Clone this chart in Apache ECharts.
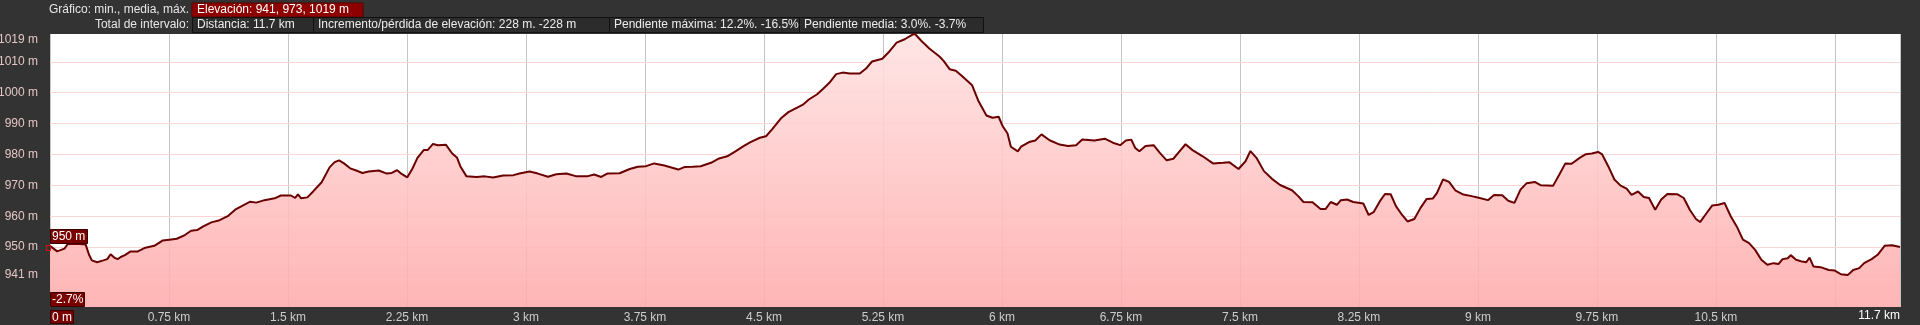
<!DOCTYPE html>
<html>
<head>
<meta charset="utf-8">
<script src="https://cdn.jsdelivr.net/npm/echarts@6/dist/echarts.min.js"></script>
<style>
html,body{margin:0;padding:0;background:#333333;}
#c{width:1920px;height:325px;}
</style>
</head>
<body>
<div id="c"></div>
<script>
// distance (km) along the track
const dist = [0,0.045,0.091,0.112,0.168,0.225,0.246,0.264,0.297,0.336,0.361,0.382,0.405,0.426,0.446,0.472,0.508,0.554,0.601,0.657,0.709,0.752,0.799,0.850,0.889,0.927,0.966,1.017,1.069,1.120,1.167,1.223,1.262,1.300,1.352,1.416,1.455,1.519,1.545,1.563,1.583,1.622,1.660,1.712,1.763,1.794,1.822,1.853,1.892,1.930,1.969,2.008,2.072,2.123,2.154,2.188,2.213,2.252,2.283,2.316,2.355,2.380,2.414,2.445,2.496,2.535,2.566,2.586,2.625,2.689,2.741,2.792,2.856,2.921,2.959,3.023,3.075,3.139,3.191,3.255,3.319,3.384,3.430,3.474,3.512,3.590,3.654,3.705,3.757,3.808,3.872,3.960,3.998,4.050,4.101,4.166,4.217,4.268,4.320,4.371,4.415,4.474,4.513,4.551,4.611,4.654,4.706,4.745,4.783,4.835,4.873,4.912,4.955,4.996,5.040,5.104,5.143,5.181,5.246,5.284,5.336,5.387,5.439,5.452,5.491,5.542,5.606,5.632,5.670,5.709,5.748,5.812,5.850,5.902,5.940,5.979,6.004,6.035,6.056,6.100,6.120,6.171,6.210,6.249,6.300,6.364,6.416,6.467,6.506,6.583,6.648,6.699,6.745,6.781,6.815,6.840,6.866,6.905,6.956,6.995,7.038,7.080,7.111,7.157,7.201,7.265,7.330,7.394,7.432,7.491,7.535,7.566,7.604,7.651,7.702,7.753,7.828,7.867,7.900,7.957,8.008,8.039,8.072,8.111,8.136,8.175,8.214,8.278,8.311,8.342,8.381,8.414,8.450,8.484,8.522,8.556,8.599,8.638,8.677,8.715,8.741,8.780,8.818,8.857,8.908,8.960,9.011,9.063,9.101,9.153,9.191,9.230,9.268,9.307,9.358,9.397,9.474,9.513,9.551,9.590,9.641,9.680,9.718,9.757,9.783,9.821,9.860,9.899,9.937,9.968,10.009,10.045,10.078,10.117,10.155,10.194,10.258,10.297,10.335,10.374,10.400,10.438,10.477,10.515,10.554,10.593,10.631,10.670,10.709,10.747,10.786,10.824,10.863,10.894,10.920,10.953,10.971,11.005,11.043,11.069,11.090,11.115,11.159,11.211,11.249,11.288,11.332,11.365,11.403,11.434,11.481,11.519,11.563,11.610,11.660];
// elevation (m)
const elev = [950.4,948.6,949.5,951.0,951.1,950.8,947.5,945.7,945.1,945.7,946.1,947.7,946.6,946.1,946.8,947.4,948.6,948.6,949.8,950.4,952.1,952.4,952.7,953.9,955.3,955.5,956.7,958.0,958.7,960.0,962.1,963.7,964.7,964.4,965.2,965.8,966.7,966.7,965.9,967.1,965.8,966.1,968.1,971.0,975.9,977.5,978.1,977.1,975.5,974.8,974.0,974.5,974.8,973.8,974.0,974.9,973.8,972.6,975.3,978.9,981.4,981.4,983.4,983.0,983.1,980.3,978.9,976.2,972.9,972.7,972.9,972.5,973.2,973.3,973.8,974.5,973.8,972.8,973.6,973.8,972.9,972.9,973.5,972.7,973.8,973.9,975.3,976.0,976.2,977.1,976.4,975.1,975.9,976.0,976.2,977.3,978.7,979.4,981.0,982.7,984.0,985.4,985.9,988.1,991.9,993.7,995.1,996.1,997.8,999.5,1001.3,1003.2,1006.0,1006.5,1006.2,1006.2,1007.8,1010.1,1011.0,1013.0,1016.2,1017.3,1018.9,1019.0,1016.8,1014.3,1011.7,1010.3,1007.6,1007.1,1005.4,1002.4,997.5,992.6,991.9,992.2,989.2,986.8,982.5,981.0,982.5,984.0,984.5,986.5,984.6,983.2,982.7,983.0,984.8,984.5,985.1,983.8,983.0,984.5,984.8,982.1,981.0,982.7,983.0,980.5,978.1,978.6,980.5,983.3,981.4,979.4,977.1,977.3,977.5,975.3,977.8,981.1,978.9,974.6,972.1,970.1,968.4,966.5,964.6,964.5,962.3,962.3,964.6,963.7,965.2,965.4,964.6,964.1,960.4,961.3,964.8,967.2,967.1,963.2,960.4,958.3,959.1,962.7,965.6,965.7,967.5,971.9,971.1,968.4,967.0,966.5,965.9,965.2,966.9,966.8,965.0,964.3,968.6,970.7,971.1,970.0,969.9,973.5,977.1,977.0,978.9,980.1,980.3,980.8,980.0,976.2,971.9,969.9,968.9,966.9,968.0,966.2,965.9,962.1,965.4,967.2,967.1,965.9,962.1,959.1,958.1,960.8,963.5,963.7,964.3,960.0,956.7,952.4,951.3,949.1,945.9,944.3,944.8,944.5,946.1,946.4,947.4,945.9,945.3,945.1,946.6,943.7,943.5,942.6,942.4,941.2,941.0,942.6,943.2,944.8,946.1,947.5,950.4,950.6,950.0];
// tick labels
const yTicks = [941,950,960,970,980,990,1000,1010,1019];
const xMaxKm = 11.66;
const xEndLabel = '11.7 km';
const headerRow1Label = 'Gráfico: min., media, máx.';
const headerRow1Box = 'Elevación: 941, 973, 1019 m';
const headerRow2Label = 'Total de intervalo:';
const headerRow2Boxes = ['Distancia: 11.7 km','Incremento/pérdida de elevación: 228 m. -228 m','Pendiente máxima: 12.2%. -16.5%','Pendiente media: 3.0%. -3.7%'];
const cursorElev = '950 m';
const cursorSlope = '-2.7%';
const cursorDist = '0 m';

const FONT = '"Liberation Sans", Arial, sans-serif';
const chart = echarts.init(document.getElementById('c'));
const data = dist.map((d,i)=>[d, elev[i]]);

// header layout
const boxEdges = [192,313,609,799,983];
const graphics = [];
graphics.push({type:'text', x:189, y:10, style:{text:headerRow1Label, fill:'#e6e6e6', font:'12px '+FONT, align:'right', verticalAlign:'middle'}});
graphics.push({type:'rect', x:192, y:3, shape:{width:171, height:14}, style:{fill:'#8e0000', stroke:'#5a0000', lineWidth:1}});
graphics.push({type:'text', x:197, y:10, style:{text:headerRow1Box, fill:'#ffffff', font:'12px '+FONT, align:'left', verticalAlign:'middle'}});
graphics.push({type:'text', x:189, y:25, style:{text:headerRow2Label, fill:'#e6e6e6', font:'12px '+FONT, align:'right', verticalAlign:'middle'}});
headerRow2Boxes.forEach((t,i)=>{
  graphics.push({type:'rect', x:boxEdges[i]+0.5, y:17.5, shape:{width:boxEdges[i+1]-boxEdges[i], height:15}, style:{fill:'#2c2c2c', stroke:'#111111', lineWidth:1}});
  graphics.push({type:'text', x:boxEdges[i]+5, y:25, style:{text:t, fill:'#ececec', font:'12px '+FONT, align:'left', verticalAlign:'middle'}});
});
// cursor annotations at the start of the profile
function tag(x,y,w,h,t){
  graphics.push({type:'rect', x:x+0.5, y:y+0.5, z:100, shape:{width:w, height:h}, style:{fill:'#7a0000', stroke:'#3a0000', lineWidth:1}});
  graphics.push({type:'text', x:x+2, y:y+h/2+1, z:101, style:{text:t, fill:'#ffffff', font:'12px '+FONT, align:'left', verticalAlign:'middle'}});
}
tag(50,229,37,14,cursorElev);
tag(50,292,34,14,cursorSlope);
tag(50,310,23,13,cursorDist);
graphics.push({type:'rect', x:46.5, y:245.5, z:100, shape:{width:4, height:5}, style:{fill:'none', stroke:'#e01010', lineWidth:1}});
graphics.push({type:'text', x:1900, y:316, style:{text:xEndLabel, fill:'#ffffff', font:'12px '+FONT, align:'right', verticalAlign:'middle'}});

const option = {
  backgroundColor:'#333333',
  animation:false,
  grid:{left:50, right:20, top:34, bottom:18, show:true, backgroundColor:'#ffffff', borderWidth:0},
  xAxis:{
    type:'value', min:0, max:xMaxKm, interval:0.75,
    axisLine:{show:false}, axisTick:{show:false},
    axisLabel:{color:'#cccccc', fontSize:12, fontFamily:FONT, margin:5, showMaxLabel:false,
      formatter:v=> (v===0 || v > xMaxKm-0.6) ? '' : (Math.round(v*100)/100)+' km'},
    splitLine:{show:true, lineStyle:{color:'#c4c4c4', width:1}}
  },
  yAxis:{
    type:'value', min:930.6, max:1019,
    axisLine:{show:false}, axisTick:{show:false}, axisLabel:{show:false}, splitLine:{show:false}
  },
  series:[{
    type:'line', data:data, symbol:'none', smooth:false,
    lineStyle:{color:'#6a0000', width:2},
    areaStyle:{opacity:0.88, color:{type:'linear', x:0, y:0, x2:0, y2:1, colorStops:[{offset:0,color:'#ffe2e2'},{offset:1,color:'#ffabab'}]}},
    markLine:{
      silent:true, symbol:'none', z:1,
      lineStyle:{color:'#fad6d6', width:1, type:'solid'},
      label:{position:'start', distance:12, color:'#e2c4c4', fontSize:12, fontFamily:FONT, formatter:p=>p.value+' m'},
      data: yTicks.map(v=> v===1019 ? {yAxis:v, lineStyle:{color:'rgba(0,0,0,0)'}, label:{verticalAlign:'top'}} : {yAxis:v})
    }
  }],
  graphic: graphics
};
chart.setOption(option);
</script>
</body>
</html>
